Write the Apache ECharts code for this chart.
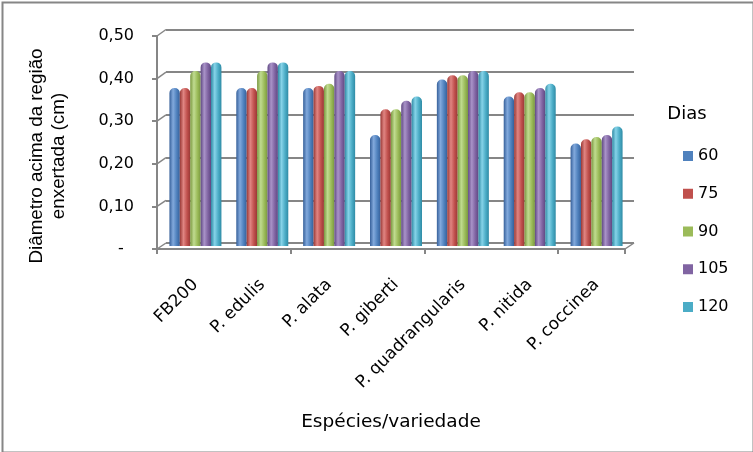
<!DOCTYPE html>
<html>
<head>
<meta charset="utf-8">
<script src="https://cdn.jsdelivr.net/npm/echarts@6/dist/echarts.min.js"></script>
<style>html,body{margin:0;padding:0;background:#fff}#c{width:753px;height:452px}</style>
</head>
<body>
<div id="c"></div>
<script>
var categories = ['FB200', 'P. edulis', 'P. alata', 'P. giberti', 'P. quadrangularis', 'P. nitida', 'P. coccinea'];
var seriesNames = ['60', '75', '90', '105', '120'];
var d60  = [0.37, 0.37, 0.37, 0.26, 0.39, 0.35, 0.24];
var d75  = [0.37, 0.37, 0.375, 0.32, 0.40, 0.36, 0.25];
var d90  = [0.41, 0.41, 0.38, 0.32, 0.40, 0.36, 0.255];
var d105 = [0.43, 0.43, 0.41, 0.34, 0.41, 0.37, 0.26];
var d120 = [0.43, 0.43, 0.41, 0.35, 0.41, 0.38, 0.28];
var yTicks = [0, 0.1, 0.2, 0.3, 0.4, 0.5];
var yTickLabels = ['-  ', '0,10', '0,20', '0,30', '0,40', '0,50'];

var allData = [d60, d75, d90, d105, d120];
var baseColors = ['#4F81BD', '#C0504D', '#9BBB59', '#8064A2', '#4BACC6'];
var darkColors = ['#36609A', '#993835', '#7A9840', '#5F4882', '#2F8BA5'];
var lightColors = ['#82A9DC', '#E08582', '#C0DB90', '#A993C8', '#86D3E8'];

var grey = '#868686';
var FONT = 'DejaVu Sans';
var W = 753, H = 452;
var front = {left: 157, top: 36, right: W - 625, bottom: H - 249};
var mid = {left: 162, top: 32.5, right: W - 630, bottom: H - 246};
var back = {left: 166, top: 29.5, right: W - 634, bottom: H - 243};

function cyl(i) {
  return new echarts.graphic.LinearGradient(0, 0, 1, 0, [
    {offset: 0, color: darkColors[i]},
    {offset: 0.35, color: lightColors[i]},
    {offset: 0.7, color: baseColors[i]},
    {offset: 1, color: darkColors[i]}
  ]);
}

var series = seriesNames.map(function (n, i) {
  return {
    name: n, type: 'bar', xAxisIndex: 1, yAxisIndex: 1,
    data: allData[i], barWidth: 10.4, barGap: '0%',
    color: baseColors[i],
    itemStyle: {color: cyl(i), borderRadius: [5, 5, 0, 0]},
    emphasis: {disabled: true}
  };
});

var yBase = {type: 'value', min: 0, max: 0.5, interval: 0.1};
var option = {
  animation: false,
  backgroundColor: '#ffffff',
  grid: [
    {left: front.left, top: front.top, right: front.right, bottom: front.bottom},
    {left: mid.left, top: mid.top, right: mid.right, bottom: mid.bottom},
    {left: back.left, top: back.top, right: back.right, bottom: back.bottom}
  ],
  xAxis: [
    {type: 'category', gridIndex: 0, data: categories,
     axisLine: {lineStyle: {color: grey, width: 2}},
     axisTick: {show: true, length: 5, lineStyle: {color: grey, width: 2}},
     axisLabel: {show: false},
     name: 'Espécies/variedade', nameLocation: 'middle', nameGap: 173,
     nameTextStyle: {fontFamily: FONT, fontSize: 18.5, color: '#000', verticalAlign: 'middle'}},
    {type: 'category', gridIndex: 1, data: categories,
     axisLine: {show: false}, axisTick: {show: false},
     axisLabel: {rotate: 45, fontFamily: FONT, fontSize: 17, color: '#000', margin: 36, interval: 0}},
    {type: 'category', gridIndex: 2, data: categories, show: false}
  ],
  yAxis: [
    Object.assign({}, yBase, {gridIndex: 0,
      axisLine: {show: true, lineStyle: {color: grey, width: 2}},
      axisTick: {show: true, length: 5, lineStyle: {color: grey, width: 2}},
      splitLine: {show: false},
      axisLabel: {margin: 23, fontFamily: FONT, fontSize: 16, color: '#000',
        formatter: function (v) {
          var k = yTicks.indexOf(Math.round(v * 10) / 10);
          return k >= 0 ? yTickLabels[k] : '';
        }}}),
    Object.assign({}, yBase, {gridIndex: 1, show: false}),
    Object.assign({}, yBase, {gridIndex: 2,
      axisLine: {show: false}, axisTick: {show: false}, axisLabel: {show: false},
      splitLine: {show: true, lineStyle: {color: grey, width: 2}}})
  ],
  legend: {
    orient: 'vertical', left: 678, top: 141,
    itemWidth: 10, itemHeight: 10, itemGap: 17.75,
    icon: 'rect',
    data: seriesNames.map(function (n, i) {
      return {name: n, itemStyle: {color: baseColors[i], borderWidth: 0}};
    }),
    textStyle: {fontFamily: FONT, fontSize: 16, color: '#000', lineHeight: 20, padding: [0, 0, 0, 0]}
  },
  series: series,
  graphic: [
    {type: 'rect', left: 0, top: 0, shape: {x: 1, y: 1, width: W - 2, height: H - 2},
     style: {fill: 'none', stroke: grey, lineWidth: 2}, z: 100},
    {type: 'text', x: 48, y: 156, rotation: Math.PI / 2,
     style: {text: 'Diâmetro acima da região\nenxertada (cm)', fontFamily: 'Liberation Sans', fontSize: 18.8,
       lineHeight: 22, fill: '#000', align: 'center', verticalAlign: 'middle'}},
    {type: 'text', x: 687, y: 114,
     style: {text: 'Dias', fontFamily: FONT, fontSize: 18, fill: '#000', align: 'center', verticalAlign: 'middle'}}
  ]
};
var chart = echarts.init(document.getElementById('c'), null, {renderer: 'canvas'});
chart.setOption(option);

// 3D-style connectors from front axis ticks to back wall
var extra = [];
yTicks.forEach(function (v) {
  var yf = chart.convertToPixel({yAxisIndex: 0}, v);
  var yb = chart.convertToPixel({yAxisIndex: 2}, v);
  extra.push({type: 'line', shape: {x1: front.left, y1: yf, x2: back.left, y2: yb},
    style: {stroke: grey, lineWidth: 1.5}, z: 5});
});
extra.push({type: 'line', shape: {x1: W - front.right, y1: H - front.bottom, x2: W - back.right, y2: H - back.bottom},
  style: {stroke: grey, lineWidth: 1.5}, z: 5});
chart.setOption({graphic: option.graphic.concat(extra)});
</script>
</body>
</html>
